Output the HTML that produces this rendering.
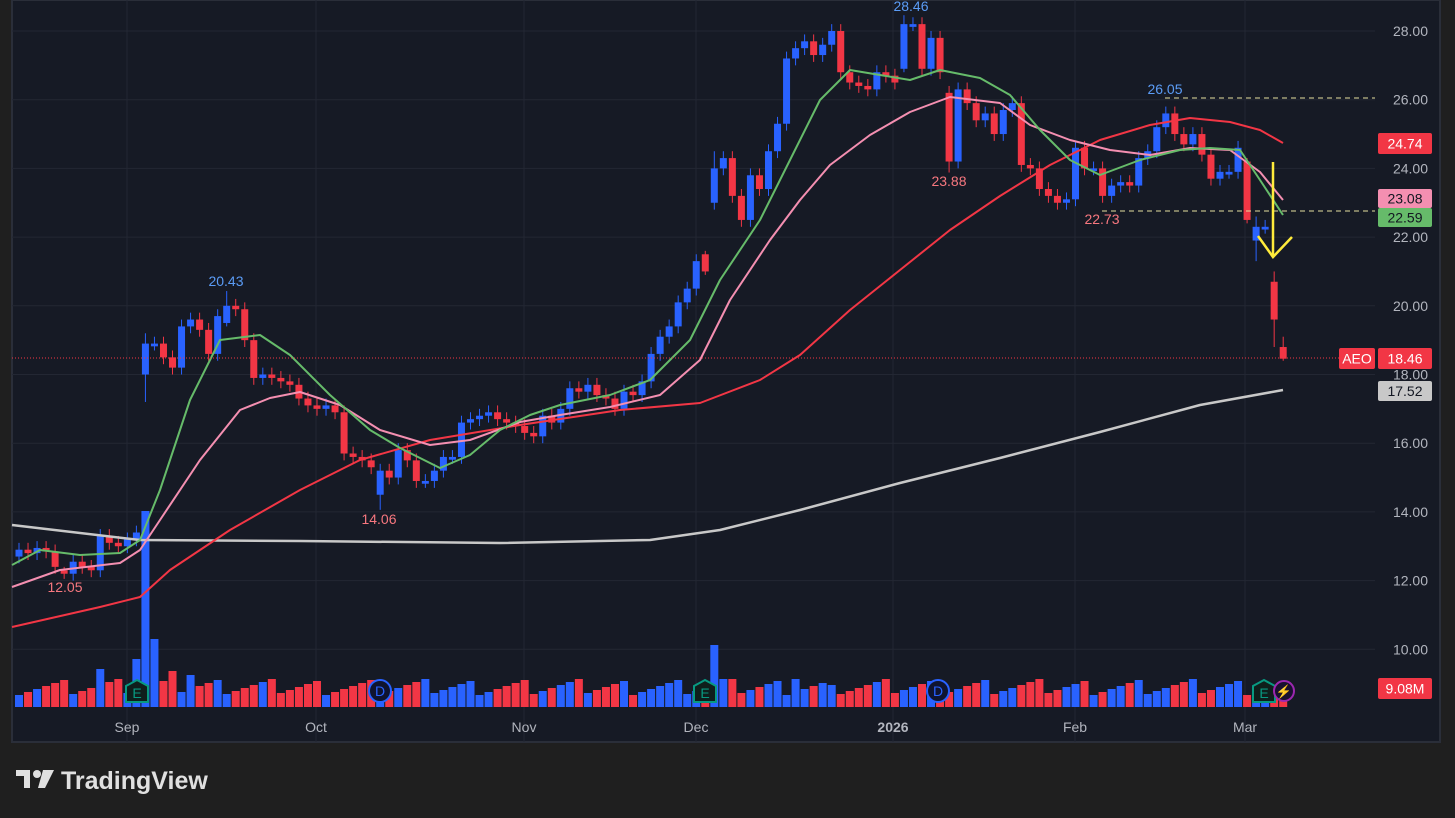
<!DOCTYPE html>
<html><head><meta charset="utf-8"><style>
html,body{margin:0;padding:0;background:#1f1f1f;width:1455px;height:818px;overflow:hidden}
svg{display:block}
text{font-family:"Liberation Sans",sans-serif}
</style></head><body>
<svg id="s" width="1455" height="818" xmlns="http://www.w3.org/2000/svg">
<rect x="0" y="0" width="1455" height="818" fill="#1f1f1f"/>
<rect x="12" y="0" width="1428" height="742" fill="#161a25" stroke="#2a2e39" stroke-width="2"/>
<g id="g"></g>
</svg>
<script>
const NS="http://www.w3.org/2000/svg";const g=document.getElementById('g');
function el(t,a,txt){const e=document.createElementNS(NS,t);for(const k in a)e.setAttribute(k,a[k]);if(txt!==undefined)e.textContent=txt;g.appendChild(e);return e;}
const Y=p=>31+(28-p)*34.35;
[28,26,24,22,20,18,16,14,12,10].forEach(p=>{el('line',{x1:12,x2:1375,y1:Y(p),y2:Y(p),stroke:'#232733','stroke-width':1});});
[127,316,524,696,893,1075,1245].forEach(x=>el('line',{x1:x,x2:x,y1:0,y2:742,stroke:'#232733'}));
const C=[12.9,12.8,12.95,12.85,12.4,12.2,12.55,12.4,12.3,13.3,13.1,13.0,13.2,13.4,18.9,18.9,18.5,18.2,19.4,19.6,19.3,18.6,19.7,20.0,19.9,19.0,17.9,18.0,17.9,17.8,17.7,17.3,17.1,17.0,17.1,16.9,15.7,15.6,15.5,15.3,15.2,15.0,15.8,15.5,14.9,14.9,15.2,15.6,15.6,16.6,16.7,16.8,16.9,16.7,16.6,16.5,16.3,16.2,16.8,16.6,17.0,17.6,17.5,17.7,17.4,17.3,17.0,17.5,17.4,17.8,18.6,19.1,19.4,20.1,20.5,21.3,21.0,24.0,24.3,23.2,22.5,23.8,23.4,24.5,25.3,27.2,27.5,27.7,27.3,27.6,28.0,26.8,26.5,26.4,26.3,26.8,26.7,26.5,26.9,28.2,26.9,27.8,26.8,24.2,26.3,25.9,25.4,25.6,25.0,25.7,25.9,24.1,24.0,23.4,23.2,23.0,23.1,24.6,24.0,24.0,23.2,23.5,23.6,23.5,24.3,24.5,25.2,25.6,25.0,24.7,25.0,24.4,23.7,23.9,23.9,24.6,22.5,22.2,22.3,19.6,18.46];
const OV={14:[18.0,18.9,19.2,17.2],76:[21.5,21.0,21.6,20.9],77:[23.0,24.0,24.5,22.8],103:[26.2,24.2,26.4,23.88],136:[24.2,22.5,24.3,22.4],137:[21.9,22.3,22.6,21.3],139:[20.7,19.6,21.0,18.8],140:[18.8,18.46,19.1,18.4],23:[19.5,20.0,20.43,19.4],98:[26.9,28.2,28.46,26.8],40:[14.5,15.2,15.4,14.06],5:[12.3,12.2,12.4,12.05]};
const X=i=>19+9.03*i;
let prev=12.7;
C.forEach((c,i)=>{let o=prev,h,l;if(OV[i]){[o,c,h,l]=OV[i];}else{h=Math.max(o,c)+0.2;l=Math.min(o,c)-0.2;if(Math.abs(o-c)<0.05)o=c-0.08;}
 const col=c>=o?'#2962ff':'#f23645';const x=X(i);
 el('line',{x1:x,x2:x,y1:Y(h),y2:Y(l),stroke:col,'stroke-width':1});
 el('rect',{x:x-3.5,y:Math.min(Y(o),Y(c)),width:7,height:Math.max(1,Math.abs(Y(o)-Y(c))),fill:col});
 prev=c;
 let vh=12+((i*37)%17);const sp={13:48,14:196,15:68,17:36,19:32,9:38,76:20,77:62,78:28,86:28,90:22,121:18};if(sp[i])vh=sp[i];
 el('rect',{x:x-4,y:707-vh,width:8,height:vh,fill:col});
});
function pl(pts,col,w){el('polyline',{points:pts.map(p=>p.join(',')).join(' '),fill:'none',stroke:col,'stroke-width':w,'stroke-linejoin':'round'});}
pl([[12,525],[140,540],[300,541],[500,543],[650,540],[720,530],[800,510],[900,483],[1000,458],[1100,432],[1200,405],[1283,390]],'#c8c8c8',2.5);
pl([[12,627],[100,607],[140,597],[170,570],[230,530],[300,490],[360,460],[430,440],[520,425],[620,410],[700,403],[760,380],[800,355],[850,310],[900,270],[950,230],[1000,196],[1050,165],[1100,140],[1150,125],[1190,118],[1230,122],[1260,130],[1283,143]],'#f23645',2);
pl([[12,587],[60,570],[120,563],[140,550],[160,520],[200,460],[240,410],[270,398],[300,392],[340,405],[380,430],[430,445],[470,440],[520,422],[560,415],[610,407],[660,395],[700,360],[730,300],[770,240],[800,200],[830,165],[870,135],[910,112],[950,97],[1000,103],[1030,125],[1070,140],[1110,150],[1150,155],[1190,148],[1230,150],[1260,172],[1283,200]],'#f48fb1',2);
pl([[12,565],[40,550],[80,555],[120,553],[140,540],[160,490],[190,400],[220,340],[260,335],[290,355],[330,395],[370,430],[400,448],[440,468],[470,455],[500,430],[530,415],[560,405],[610,395],[650,380],[690,340],[720,280],[760,220],[790,160],[820,100],[850,70],[880,75],[910,80],[940,70],[980,78],[1010,95],[1040,130],[1070,160],[1100,175],[1140,160],[1180,150],[1210,148],[1240,150],[1260,180],[1283,215]],'#66bb6a',2);
el('line',{x1:1165,x2:1375,y1:98,y2:98,stroke:'#e6e0a0','stroke-dasharray':'5,4'});
el('line',{x1:1102,x2:1375,y1:211,y2:211,stroke:'#e6e0a0','stroke-dasharray':'5,4'});
el('line',{x1:12,x2:1340,y1:358,y2:358,stroke:'#f23645','stroke-dasharray':'1,2'});
el('line',{x1:1273,x2:1273,y1:162,y2:257,stroke:'#ffeb3b','stroke-width':2.5});
el('polyline',{points:'1258,236 1273,257 1292,237',fill:'none',stroke:'#ffeb3b','stroke-width':2.5});
[['28.46',911,11,'#5b9cf6'],['20.43',226,286,'#5b9cf6'],['12.05',65,592,'#f7777f'],['14.06',379,524,'#f7777f'],['23.88',949,186,'#f7777f'],['22.73',1102,224,'#f7777f'],['26.05',1165,94,'#5b9cf6']].forEach(a=>el('text',{x:a[1],y:a[2],fill:a[3],'font-size':14,'text-anchor':'middle'},a[0]));
[28,26,24,22,20,18,16,14,12,10].forEach(p=>el('text',{x:1428,y:Y(p)+5,fill:'#b2b5be','font-size':14,'text-anchor':'end'},p.toFixed(2)));
function box(x,y,w,h,bg,fg,t){el('rect',{x,y,width:w,height:h,fill:bg,rx:2});el('text',{x:x+w/2,y:y+h/2+5,fill:fg,'font-size':14,'text-anchor':'middle'},t);}
box(1378,133,54,21,'#f23645','#fff','24.74');
box(1378,189,54,19,'#f48fb1','#131722','23.08');
box(1378,208,54,19,'#66bb6a','#131722','22.59');
box(1339,348,36,21,'#f23645','#fff','AEO');
box(1378,348,54,21,'#f23645','#fff','18.46');
box(1378,381,54,20,'#c8c8c8','#131722','17.52');
box(1378,678,54,21,'#f23645','#fff','9.08M');
[['Sep',127],['Oct',316],['Nov',524],['Dec',696],['2026',893],['Feb',1075],['Mar',1245]].forEach(a=>el('text',{x:a[1],y:732,fill:'#b2b5be','font-size':14,'text-anchor':'middle','font-weight':a[0]=='2026'?'bold':'normal'},a[0]));
function mk(x,t){if(t=='E'){el('polygon',{points:`${x},${680} ${x+11},${686} ${x+11},${702} ${x-11},${702} ${x-11},${686}`,fill:'#0f1f1c',stroke:'#089981','stroke-width':2});el('text',{x,y:698,fill:'#089981','font-size':14,'text-anchor':'middle'},'E');}
 else if(t=='D'){el('circle',{cx:x,cy:691,r:11,fill:'#0f1430',stroke:'#2962ff','stroke-width':2});el('text',{x,y:696,fill:'#2962ff','font-size':14,'text-anchor':'middle'},'D');}
 else{el('circle',{cx:x,cy:691,r:10,fill:'#1a1030',stroke:'#9c27b0','stroke-width':2});el('text',{x,y:696,fill:'#ce93d8','font-size':13,'text-anchor':'middle'},'⚡');}}
mk(137,'E');mk(380,'D');mk(705,'E');mk(938,'D');mk(1264,'E');mk(1284,'L');
el('path',{d:'M16 770h14v18h-6v-12h-8z',fill:'#e0e0e0'});
el('circle',{cx:37,cy:774,r:4,fill:'#e0e0e0'});
el('path',{d:'M43 770h11l-9 18h-7z',fill:'#e0e0e0'});
el('text',{x:61,y:789,fill:'#e0e0e0','font-size':25,'font-weight':'bold'},'TradingView');
</script>
</body></html>
